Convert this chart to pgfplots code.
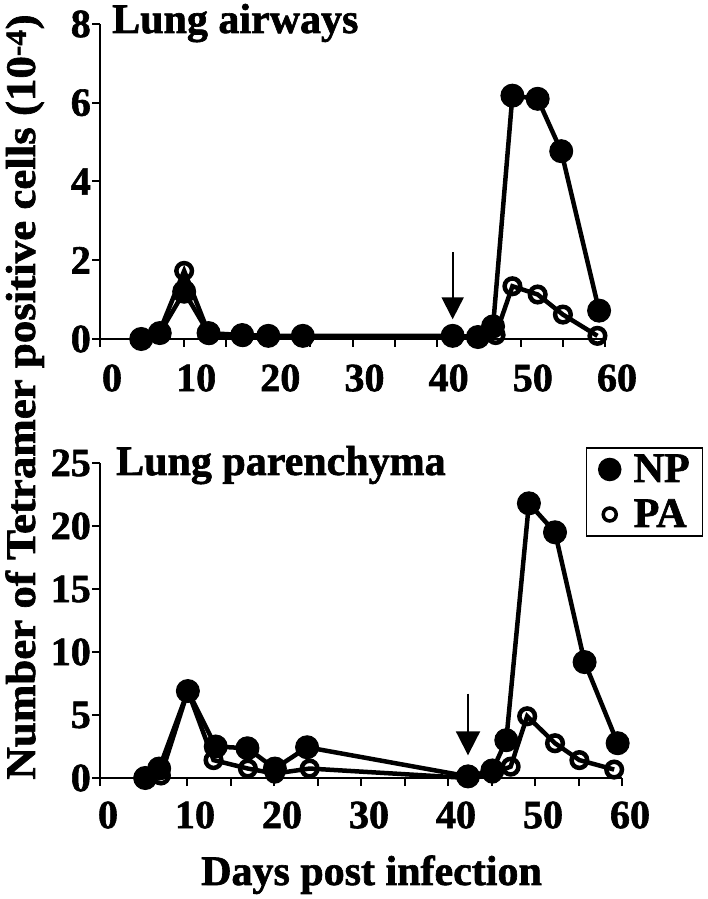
\documentclass[border=0pt]{standalone}
\usepackage{fontspec}
\setmainfont{Liberation Serif}[BoldFeatures={FakeBold=1.5}]
\usepackage{pgfplots}
\pgfplotsset{compat=1.18}
\usetikzlibrary{arrows.meta}

\pgfplotsset{
  panel/.style={
    scale only axis, clip=false,
    axis x line*=bottom, axis y line*=left,
    axis line style={line width=2pt},
    tick align=outside, major tick length=8pt, minor tick length=8pt,
    tick style={line width=2pt, black},
    xmin=0, xmax=60, ymin=0,
    xtick={0,10,...,60}, minor xtick={5,15,...,55},
    /pgf/number format/assume math mode=true,
    tick label style={font=\fontsize{40}{42}\selectfont\bfseries},
    yticklabel style={inner sep=1pt},
  },
  np/.style={black, line width=4.5pt, mark=*, mark size=11.5pt,
    mark options={fill=black, line width=1pt}},
  pa/.style={black, line width=4.5pt, mark=o, mark size=7.8pt,
    mark options={fill=white, line width=4.5pt}},
}
\newcommand\bigtxt{\fontsize{42}{44}\selectfont\bfseries}

\begin{document}
\begin{tikzpicture}[x=1pt,y=1pt]
\path[use as bounding box] (0,0) rectangle (708,899);

% lung airways
\begin{axis}[panel, at={(100pt,560pt)}, anchor=south west,
  width=505pt, height=315pt, ymax=8, ytick={0,2,...,8},
  xticklabel style={xshift=12pt, yshift=-14pt}]
\addplot[pa] coordinates {
(5,0)(7,0.15)(10,1.73)(13,0.1)(17,0.05)(20,0.05)(24,0.05)
(42,0.05)(45,0.05)(47,0.1)(49,1.34)(52,1.13)(55,0.62)(59.1,0.08)};
\addplot[np] coordinates {
(4.9,0)(7.1,0.15)(10,1.2)(12.9,0.15)(16.9,0.1)(20,0.08)(24.1,0.08)
(41.9,0.08)(44.9,0.05)(46.7,0.32)(49,6.18)(52,6.1)(54.8,4.77)(59.3,0.72)};
\draw[line width=2pt, -{Triangle[length=22pt,width=22pt]}]
  (axis cs:41.9,2.2) -- (axis cs:41.9,0.5);
\end{axis}

% lung parenchyma
\begin{axis}[panel, at={(100pt,121pt)}, anchor=south west,
  width=522pt, height=315pt, ymax=25, ytick={0,5,...,25},
  xticklabel style={xshift=8pt, yshift=-12pt},
  legend style={at={(0.931,1.05)}, anchor=north west, draw=black,
    line width=1.5pt, font=\bigtxt, inner xsep=11pt, inner ysep=2pt,
    row sep=6pt, column sep=10pt,
    nodes={inner sep=2pt, text height=30pt, text depth=5pt}},
  legend image code/.code={\path[draw=none] (-12pt,0pt) -- (12pt,0pt);
    \draw[#1] plot coordinates {(0pt,0pt)};},
  legend cell align=left]
\addlegendimage{only marks, mark=*, mark size=11pt, mark options={fill=black}}
\addlegendentry{NP}
\addlegendimage{only marks, mark=o, mark size=6.5pt, mark options={line width=3.5pt, fill=white}}
\addlegendentry{PA}
\addplot[pa, forget plot] coordinates {
(5,0)(7,0.2)(10.1,6.9)(13.05,1.42)(17,0.75)(20.1,0.35)(24.1,0.75)
(42.3,0)(45.1,0.35)(47.2,0.9)(49.1,4.9)(52.3,2.76)(55.1,1.42)(59.1,0.67)};
\addplot[np, forget plot] coordinates {
(5.2,0)(6.8,0.75)(10.1,6.9)(13.3,2.5)(16.95,2.36)(20.1,0.75)(23.8,2.44)
(42.3,0.13)(45.1,0.6)(46.7,3.0)(49.3,21.8)(52.3,19.5)(55.7,9.2)(59.5,2.76)};
\draw[line width=2pt, -{Triangle[length=24pt,width=24pt]}]
  (axis cs:42.3,6.7) -- (axis cs:42.3,1.8);
\end{axis}

\node[anchor=base west, inner sep=0, font=\bigtxt] at (112,866) {Lung airways};
\node[anchor=base west, inner sep=0, font=\bigtxt] at (116,424) {Lung parenchyma};
\node[anchor=base west, inner sep=0, font=\bigtxt] at (201,14) {Days post infection};
\node[rotate=90, anchor=base, inner sep=0, font=\bigtxt] at (35,502)
  {\scalebox{1.07}[1]{Number of Tetramer positive cells (10\textsuperscript{-4})}};
\end{tikzpicture}
\end{document}
